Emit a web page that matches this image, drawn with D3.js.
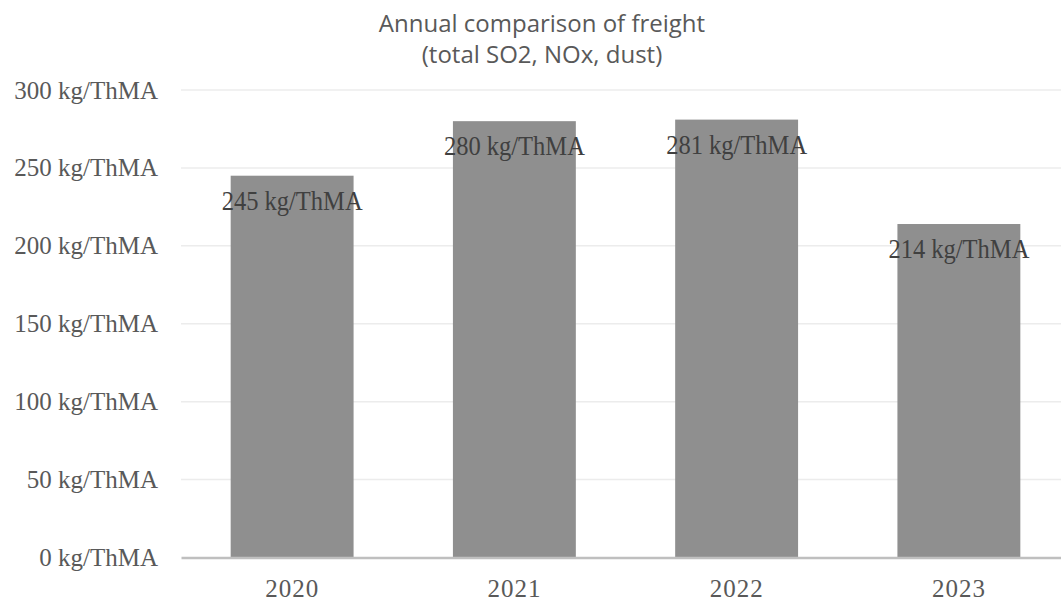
<!DOCTYPE html>
<html>
<head>
<meta charset="utf-8">
<script src="https://cdn.jsdelivr.net/npm/d3@7"></script>
<style>
  html, body { margin: 0; padding: 0; background: #fff; overflow: hidden; }
  svg { display: block; }
</style>
</head>
<body>
<svg id="chart" width="1061" height="601"></svg>
<script>
// Emissions per year (kg per thousand machine-hours)
const years = ["2020", "2021", "2022", "2023"];
const values = [245, 280, 281, 214];
const yTicks = [0, 50, 100, 150, 200, 250, 300];
const unit = "kg/ThMA";
const titleLines = ["Annual comparison of freight", "(total SO2, NOx, dust)"];

const svg = d3.select("#chart");
const serif = "'Liberation Serif', 'DejaVu Serif', serif";

const x = d3.scaleBand().domain(years).range([181, 1070]).paddingInner(0.447).paddingOuter(0.2235);
const y = d3.scaleLinear().domain([0, 300]).range([557.5, 90]);

// horizontal gridlines
svg.append("g")
  .selectAll("line")
  .data(yTicks.filter(d => d > 0))
  .join("line")
  .attr("x1", 181).attr("x2", 1070)
  .attr("y1", d => y(d)).attr("y2", d => y(d))
  .attr("stroke", "#ececec").attr("stroke-width", 1.5);

// y axis labels
const yAxis = svg.append("g")
  .attr("transform", "translate(158,0)")
  .call(d3.axisLeft(y).tickValues(yTicks).tickSize(0).tickPadding(0).tickFormat(d => `${d} ${unit}`));
yAxis.select(".domain").remove();
yAxis.selectAll("text")
  .attr("font-family", serif).attr("font-size", 25).attr("fill", "#595959")
  .attr("dy", "0.32em");

// bars
svg.append("g")
  .selectAll("rect")
  .data(values)
  .join("rect")
  .attr("x", (d, i) => x(years[i]))
  .attr("width", x.bandwidth())
  .attr("y", d => y(d))
  .attr("height", d => y(0) - y(d))
  .attr("fill", "#8f8f8f");

// x axis baseline and year labels
const xAxis = svg.append("g")
  .attr("transform", `translate(0,${y(0)})`)
  .call(d3.axisBottom(x).tickSize(0).tickPadding(22));
xAxis.select(".domain").attr("stroke", "#bfbfbf").attr("stroke-width", 2.5);
xAxis.selectAll("text")
  .attr("font-family", serif).attr("font-size", 25).attr("fill", "#595959")
  .attr("letter-spacing", 1);

// value labels inside bar tops
svg.append("g")
  .selectAll("text")
  .data(values)
  .join("text")
  .attr("x", (d, i) => x(years[i]) + x.bandwidth() / 2)
  .attr("y", d => y(d) + 34)
  .attr("text-anchor", "middle")
  .attr("font-family", serif).attr("font-size", 28).attr("fill", "#404040")
  .attr("textLength", 141).attr("lengthAdjust", "spacingAndGlyphs")
  .text(d => `${d} ${unit}`);

// title
svg.append("text")
  .attr("x", 542).attr("y", 32)
  .attr("text-anchor", "middle")
  .attr("font-family", "'Open Sans', sans-serif").attr("font-size", 24).attr("fill", "#595959")
  .selectAll("tspan")
  .data(titleLines)
  .join("tspan")
  .attr("x", 542)
  .attr("dy", (d, i) => i === 0 ? 0 : 31)
  .text(d => d);
</script>
</body>
</html>
